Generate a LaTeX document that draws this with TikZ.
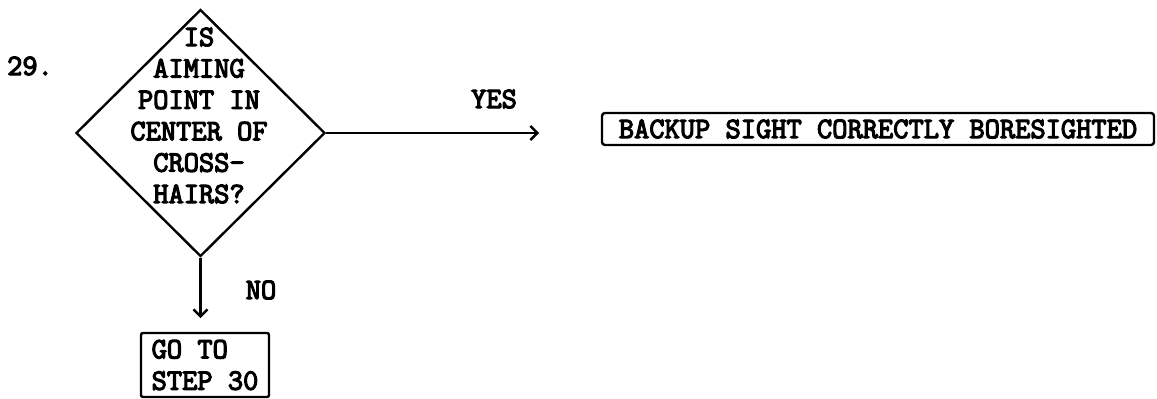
\documentclass[tikz,border=0pt]{standalone}
\usepackage{fontspec}
\newfontfamily\tw[FakeBold=4]{Latin Modern Mono}
\usetikzlibrary{shapes.geometric,arrows.meta}
\begin{document}
\begin{tikzpicture}[x=1pt,y=-1pt,
  lbl/.style={font=\tw\fontsize{29.6}{31.4}\selectfont, inner sep=0pt},
  stroke/.style={line width=2.4pt},
  arr/.style={stroke, -{Straight Barb[length=7pt,width=14pt,line width=2.4pt]}}]
\useasboundingbox (0,0) rectangle (1157,399);
\node[draw, stroke, diamond, minimum width=249pt, minimum height=247pt, inner sep=0pt] (q) at (200.5,133) {};
\node[lbl, align=center] (qt) at (199,115.5) {IS\\AIMING\\POINT IN\\CENTER OF\\CROSS-\\HAIRS?};
\node[lbl] (n29) at (30,66) {29.};
\node[lbl] (yes) at (494,99) {YES};
\node[lbl] (no) at (261,290) {NO};
\node[lbl, draw, stroke, rounded corners=3pt, minimum width=552pt, minimum height=32pt] (b1) at (878,129) {BACKUP SIGHT CORRECTLY BORESIGHTED};
\node[lbl, draw, stroke, rounded corners=2pt, minimum width=128pt, minimum height=64pt, align=left] (b2) at (205,365) {GO TO\\STEP 30};
\coordinate (yt) at (539,133);
\coordinate (nt) at (200.5,318);
\draw[arr] (q.east) -- (yt);
\draw[arr] (q.south) -- (nt);
\end{tikzpicture}
\end{document}
